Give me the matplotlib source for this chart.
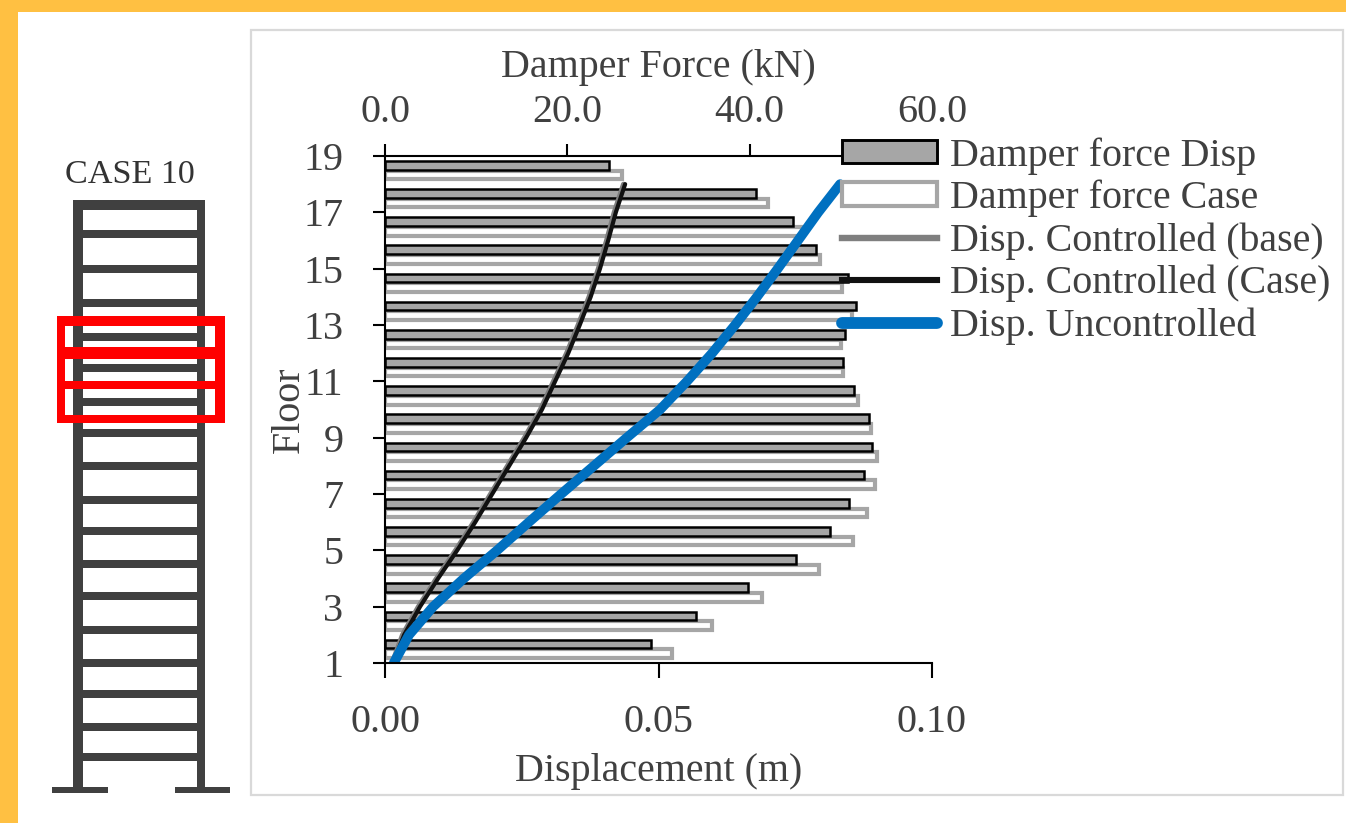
import matplotlib
matplotlib.use("Agg")
import matplotlib.pyplot as plt
from matplotlib.lines import Line2D
from matplotlib.patches import Patch, Rectangle
import numpy as np

W, H = 1346, 823
plt.rcParams['font.family'] = ['Liberation Serif', 'DejaVu Serif']

# ---- data ----
floors = [1, 2, 3, 4, 5, 6, 7, 8, 9, 10, 11, 12, 13, 14, 15, 16, 17, 18]
bar_floors = [1.5, 2.5, 3.5, 4.5, 5.5, 6.5, 7.5, 8.5, 9.5, 10.5, 11.5, 12.5, 13.5, 14.5, 15.5, 16.5, 17.5, 18.5]
force_disp = [29.2, 34.1, 39.8, 45.1, 48.8, 50.9, 52.5, 53.4, 53.1, 51.4, 50.2, 50.5, 51.7, 50.8, 47.3, 44.8, 40.7, 24.6]
force_case = [31.5, 35.9, 41.4, 47.6, 51.3, 52.9, 53.8, 54.0, 53.3, 51.9, 50.2, 50.0, 51.2, 50.1, 47.7, 45.7, 42.0, 26.0]
disp_uncontrolled = [0.0016, 0.0044, 0.0088, 0.0144, 0.0205, 0.0263, 0.0322, 0.0382, 0.0442, 0.0503, 0.0552, 0.0598, 0.0640, 0.0680, 0.0718, 0.0755, 0.0792, 0.0832]
disp_case = [0.0015, 0.0035, 0.0064, 0.0097, 0.0132, 0.0165, 0.0196, 0.0227, 0.0258, 0.0287, 0.0311, 0.0335, 0.0356, 0.0376, 0.0393, 0.0408, 0.0422, 0.0439]
disp_base = [0.0013, 0.0032, 0.0061, 0.0094, 0.0129, 0.0162, 0.0193, 0.0224, 0.0255, 0.0284, 0.0308, 0.0332, 0.0353, 0.0373, 0.0390, 0.0405, 0.0419, 0.0436]
labels = ['Damper force Disp', 'Damper force Case', 'Disp. Controlled (base)', 'Disp. Controlled (Case)', 'Disp. Uncontrolled']
floor_ticks = [1, 3, 5, 7, 9, 11, 13, 15, 17, 19]
force_ticks = [0, 20, 40, 60]
disp_ticks = [0.00, 0.05, 0.10]

# frame sketch (pixel positions of the illustration)
beam_rows = [234, 269, 303, 337, 368, 402, 433, 466, 500, 531, 564, 596, 630, 663, 694, 727, 757]
red_bands = [(316, 326), (347, 359), (381, 389), (415, 423)]

TXT = '#404040'
FS = 28.8
fig = plt.figure(figsize=(W / 100, H / 100), dpi=100, facecolor='white')

# background canvas in pixel coordinates
bg = fig.add_axes([0, 0, 1, 1], zorder=0)
bg.set_xlim(0, W); bg.set_ylim(H, 0); bg.axis('off')
ORANGE = '#FFC042'
bg.add_patch(Rectangle((0, 0), W, 12, fc=ORANGE, ec='none'))
bg.add_patch(Rectangle((0, 0), 18, H, fc=ORANGE, ec='none'))
bg.add_patch(Rectangle((250.5, 30), 1092, 765, fc='white', ec='#D9D9D9', lw=1.6))

FR = '#404040'
def box(x0, y0, x1, y1, c):
    bg.add_patch(Rectangle((x0, y0), x1 - x0, y1 - y0, fc=c, ec='none'))
box(73, 200, 83, 790, FR)
box(197, 200, 205, 790, FR)
box(73, 200, 205, 210, FR)
for y in beam_rows:
    box(73, y - 4, 205, y + 4, FR)
box(52, 787, 108, 793, FR)
box(175, 787, 230, 793, FR)
for y0, y1 in red_bands:
    box(57, y0, 225, y1, '#FF0000')
box(57, 316, 65, 423, '#FF0000')
box(215, 316, 225, 423, '#FF0000')
bg.text(130, 175, 'CASE 10', ha='center', va='center', fontsize=24.6, color='#333333')

# main chart
L, R, T, B = 385, 932, 156, 663
ax = fig.add_axes([L / W, 1 - B / H, (R - L) / W, (B - T) / H], zorder=1)
ax.patch.set_alpha(0)
off, bh = 0.17, 0.31
ax.barh(np.array(bar_floors) - off, force_case, height=bh, color='white', edgecolor='#A6A6A6', linewidth=3.0)
ax.barh(np.array(bar_floors) + off, force_disp, height=bh, color='#A6A6A6', edgecolor='black', linewidth=1.8)
ax.set_xlim(0, 60); ax.set_ylim(1, 19)
ax.set_yticks(floor_ticks, [str(t) for t in floor_ticks])
ax.set_ylabel('Floor', fontsize=FS, color=TXT, labelpad=-3.4)
ax.tick_params(axis='y', length=9, width=1.5, labelsize=FS, labelcolor=TXT, pad=21)
for s in ('right', 'bottom'):
    ax.spines[s].set_visible(False)
for s in ('top', 'left'):
    ax.spines[s].set_linewidth(1.5)

ax2 = ax.twiny()
ax2.set_zorder(2)
ax.xaxis.tick_top()
ax.xaxis.set_label_position('top')
ax.set_xticks(force_ticks, [f'{t:.1f}' for t in force_ticks])
ax.set_xlabel('Damper Force (kN)', fontsize=FS, color=TXT, labelpad=12.5)
ax.tick_params(axis='x', length=9, width=1.5, labelsize=FS, labelcolor=TXT, pad=9)

ax2.xaxis.tick_bottom()
ax2.xaxis.set_label_position('bottom')
ax2.set_xlim(0, 0.10)
ax2.plot(disp_base, floors, color='#7F7F7F', lw=3.6, solid_capstyle='round')
ax2.plot(disp_case, floors, color='#111111', lw=3.0, solid_capstyle='round')
ax2.plot(disp_uncontrolled, floors, color='#0070C0', lw=7.0, solid_capstyle='round')
ax2.set_xticks(disp_ticks, [f'{t:.2f}' for t in disp_ticks])
ax2.tick_params(axis='x', length=11, width=1.5, labelsize=FS, labelcolor=TXT, pad=18.4)
ax2.set_xlabel('Displacement (m)', fontsize=FS, color=TXT, labelpad=8.5)
for s in ('right', 'top', 'left'):
    ax2.spines[s].set_visible(False)
ax2.spines['bottom'].set_linewidth(1.5)

handles = [
    Patch(fc='#A6A6A6', ec='black', lw=2.1),
    Patch(fc='white', ec='#A6A6A6', lw=3.0),
    Line2D([], [], color='#7F7F7F', lw=4.6),
    Line2D([], [], color='#111111', lw=4.4),
    Line2D([], [], color='#0070C0', lw=8.5, solid_capstyle='round'),
]
leg = ax2.legend(handles, labels, loc='upper left', bbox_to_anchor=(842 / W, 1 - 137 / H),
                 bbox_transform=fig.transFigure, frameon=False, fontsize=FS,
                 labelcolor=TXT, handlelength=2.37, handleheight=0.52, handletextpad=0.32,
                 labelspacing=0.125, borderpad=0, borderaxespad=0)
leg.set_zorder(10)
fig.savefig('out.png', dpi=100)
